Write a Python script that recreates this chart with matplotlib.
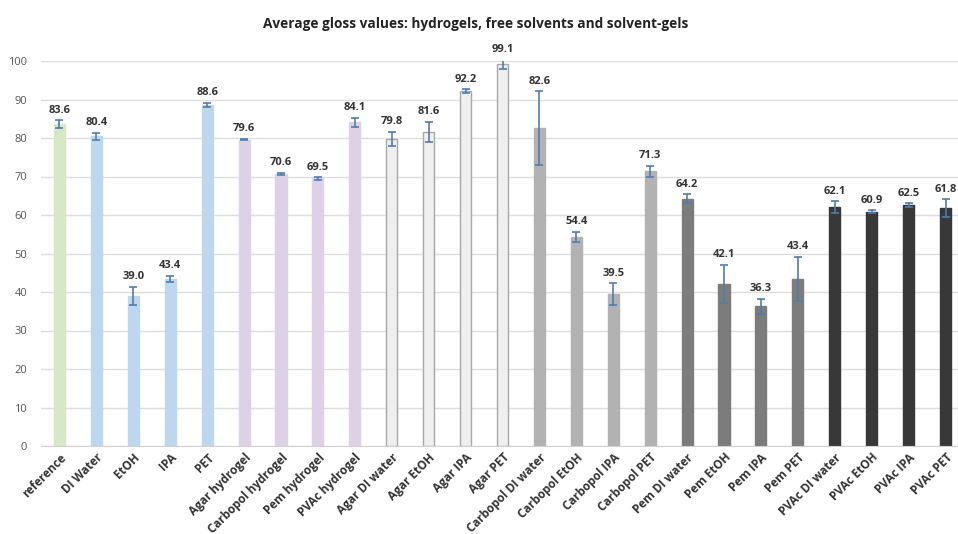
import numpy as np
import matplotlib.pyplot as plt
plt.rcParams['font.family'] = ['Open Sans', 'DejaVu Sans']

labels = ['reference', 'DI Water', 'EtOH', 'IPA', 'PET',
          'Agar hydrogel', 'Carbopol hydrogel', 'Pem hydrogel', 'PVAc hydrogel',
          'Agar DI water', 'Agar EtOH', 'Agar IPA', 'Agar PET',
          'Carbopol DI water', 'Carbopol EtOH', 'Carbopol IPA', 'Carbopol PET',
          'Pem DI water', 'Pem EtOH', 'Pem IPA', 'Pem PET',
          'PVAc DI water', 'PVAc EtOH', 'PVAc IPA', 'PVAc PET']
gloss = [83.6, 80.4, 39.0, 43.4, 88.6,
         79.6, 70.6, 69.5, 84.1,
         79.8, 81.6, 92.2, 99.1,
         82.6, 54.4, 39.5, 71.3,
         64.2, 42.1, 36.3, 43.4,
         62.1, 60.9, 62.5, 61.8]
err = [1.0, 1.0, 2.4, 0.8, 0.6,
       0.2, 0.3, 0.3, 1.2,
       1.8, 2.6, 0.4, 1.3,
       9.5, 1.3, 2.8, 1.4,
       1.2, 4.9, 2.0, 5.7,
       1.5, 0.3, 0.5, 2.3]
groups = ['ref'] + ['solvent'] * 4 + ['hydrogel'] * 4 + ['agar'] * 4 + \
         ['carbopol'] * 4 + ['pem'] * 4 + ['pvac'] * 4

face = {'ref': '#d6e9c6', 'solvent': '#bdd7ee', 'hydrogel': '#ddd1e7',
        'agar': '#efefef', 'carbopol': '#b2b2b2', 'pem': '#7c7c7c', 'pvac': '#383838'}
edge = {'ref': '#d6e9c6', 'solvent': '#bdd7ee', 'hydrogel': '#ddd1e7',
        'agar': '#a8a8a8', 'carbopol': '#b2b2b2', 'pem': '#7c7c7c', 'pvac': '#383838'}

fig = plt.figure(figsize=(9.58, 5.34), dpi=100, facecolor='white')
ax = fig.add_axes([41/958, 88/534, 923/958, 385/534])

x = np.arange(len(labels))
ax.bar(x, gloss, width=0.3, color=[face[g] for g in groups],
       edgecolor=[edge[g] for g in groups], linewidth=1.0, zorder=2)
ax.errorbar(x, gloss, yerr=err, fmt='none', ecolor='#4f7cb0', elinewidth=1.2,
            capsize=3, capthick=1.2, zorder=3)
for xi, v, e in zip(x, gloss, err):
    ax.text(xi, v + e + 1.2, f'{v:.1f}', ha='center', va='bottom',
            fontsize=8, fontweight='bold', color='#333333')

ax.set_xlim(-0.5, len(labels) - 0.5)
ax.set_ylim(0, 100)
ax.set_yticks(range(0, 101, 10))
ax.yaxis.grid(True, color='#e0dcdc', linewidth=1, zorder=0)
ax.set_axisbelow(True)
for s in ['top', 'right', 'left']:
    ax.spines[s].set_visible(False)
ax.spines['bottom'].set_color('#d4d0d0')
ax.tick_params(axis='both', length=0, colors='#555555', labelsize=8)
ax.tick_params(axis='y', pad=10)
ax.set_xticks(x)
ax.set_xticklabels(labels, rotation=45, ha='right', rotation_mode='anchor',
                   fontweight='bold', color='#333333', fontsize=8.5)

fig.text(0.497, 0.955, 'Average gloss values: hydrogels, free solvents and solvent-gels',
         ha='center', va='center', fontsize=9.8, fontweight='bold', color='#222222')

fig.savefig('out.png', dpi=100, facecolor='white')
